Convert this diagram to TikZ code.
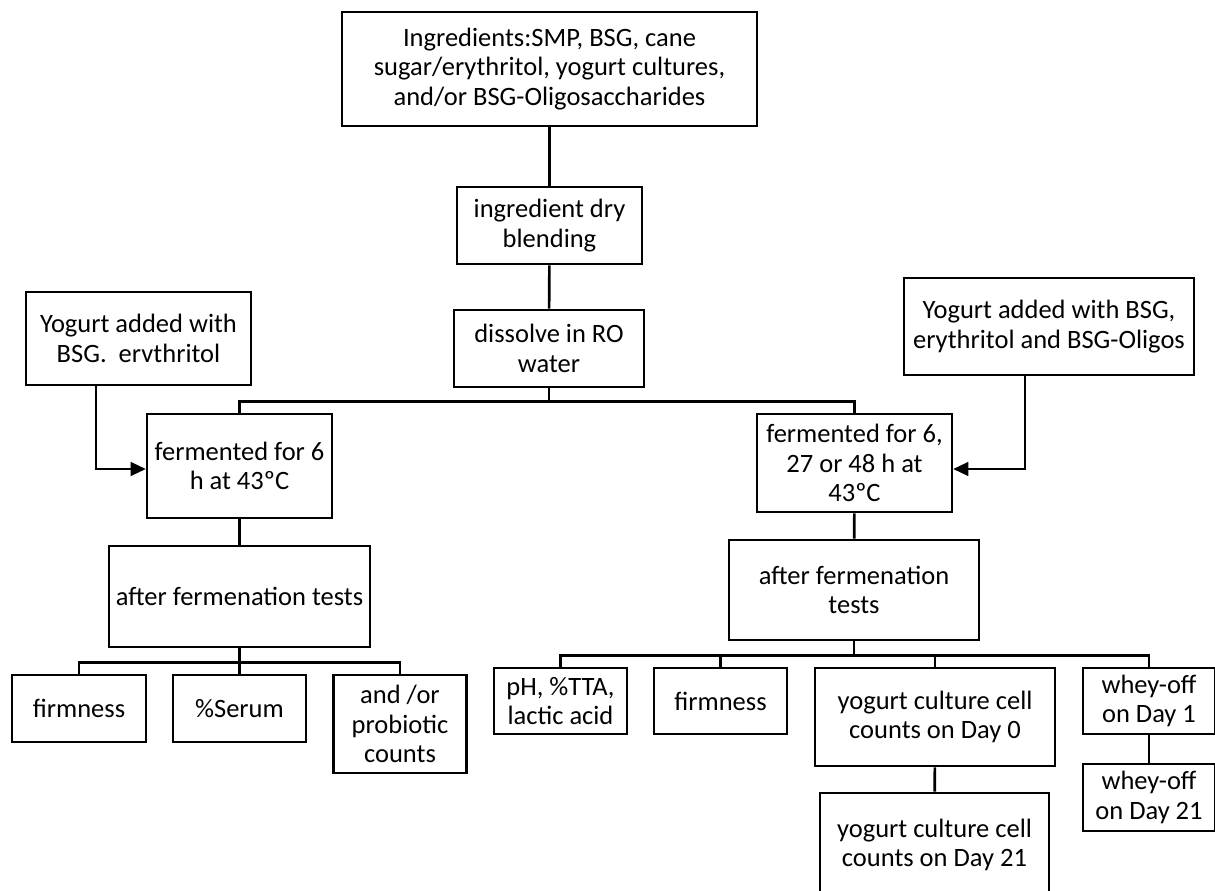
\documentclass[tikz,border=0pt]{standalone}
\usepackage{fontspec}
\setmainfont{Carlito}
\usetikzlibrary{arrows.meta}
\tikzset{
	box/.style={draw, line width=2.6pt, align=center, inner sep=0pt},
	link/.style={line width=2.6pt},
	feed/.style={line width=1.2pt, -{Triangle[length=15pt,width=14pt]}}
}
\begin{document}
\begin{tikzpicture}[x=1pt, y=-1pt, font=\fontsize{26.5}{29.5}\selectfont, line join=miter]
	\def\xmax{1215}\def\ymax{891}
	\useasboundingbox (0,0) rectangle (\xmax,\ymax);
	% main line
	\node[box, minimum width=415, minimum height=114] (ingr) at (549.5,69) {Ingredients:SMP, BSG, cane\\sugar/erythritol, yogurt cultures,\\and/or BSG-Oligosaccharides};
	\node[box, minimum width=185, minimum height=77] (blend) at (549.5,225.5) {ingredient dry\\blending};
	\node[box, minimum width=190, minimum height=77] (dis) at (549,348.5) {dissolve in RO\\water};
	\node[box, minimum width=185, minimum height=104] (fermL) at (239.5,466) {fermented for 6\\h at 43ºC};
	\node[box, minimum width=195, minimum height=98] (fermR) at (854.5,463) {fermented for 6,\\27 or 48 h at\\43ºC};
	\node[box, minimum width=225, minimum height=93] (addL) at (138.5,338.5) {Yogurt added with\\BSG.~~ervthritol};
	\node[box, minimum width=290, minimum height=97] (addR) at (1049,326.5) {Yogurt added with BSG,\\erythritol and BSG-Oligos};
	\node[box, minimum width=261, minimum height=101] (aftL) at (239.5,596.5) {after fermenation tests};
	\node[box, minimum width=250, minimum height=100] (aftR) at (854,590) {after fermenation\\tests};
	% left tests
	\node[box, minimum width=134, minimum height=67] (firmL) at (79,708.5) {firmness};
	\node[box, minimum width=133, minimum height=67] (serL) at (239.5,708.5) {\%Serum};
	\node[box, minimum width=133, minimum height=98] (probL) at (400,724) {and /or\\probiotic\\counts};
	% right tests
	\node[box, minimum width=133, minimum height=66] (pH) at (560.5,701) {pH, \%TTA,\\lactic acid};
	\node[box, minimum width=133, minimum height=66] (firmR) at (720.5,701) {firmness};
	\node[box, minimum width=240, minimum height=98] (yog0) at (935,717) {yogurt culture cell\\counts on Day 0};
	\node[box, minimum width=229, minimum height=104] (yog21) at (934.5,845) {yogurt culture cell\\counts on Day 21};
	\node[box, minimum width=132, minimum height=66] (whey1) at (1149,701) {whey-off\\on Day 1};
	\node[box, minimum width=132, minimum height=67] (whey21) at (1149,797.5) {whey-off\\on Day 21};
	% connectors
	\draw[link] (ingr) -- (blend);
	\draw[link] (blend) -- (dis);
	\draw[link] (dis.south) -- ++(0,13) coordinate (splitA);
	\draw[link] (fermL.north) |- (splitA) -| (fermR.north);
	\draw[link] (fermL) -- (aftL);
	\draw[link] (fermR) -- (aftR);
	\draw[link] (aftL.south) -- ++(0,14) coordinate (splitB);
	\draw[link] (firmL.north) |- (splitB) -| (probL.north);
	\draw[link] (splitB) -- (serL.north);
	\draw[link] (aftR.south) -- ++(0,14) coordinate (splitC);
	\draw[link] (pH.north) |- (splitC) -| (whey1.north);
	\draw[link] (firmR.north) -- (firmR.north |- splitC);
	\draw[link] (yog0.north) -- (yog0.north |- splitC);
	\draw[link] (yog0) -- (yog21);
	\draw[link] (whey1) -- (whey21);
	\draw[feed] ([xshift=-42.5pt]addL.south) |- ([yshift=-3pt]fermL.west);
	\draw[feed] ([xshift=-24pt]addR.south) |- ([yshift=-6pt]fermR.east);
\end{tikzpicture}
\end{document}
